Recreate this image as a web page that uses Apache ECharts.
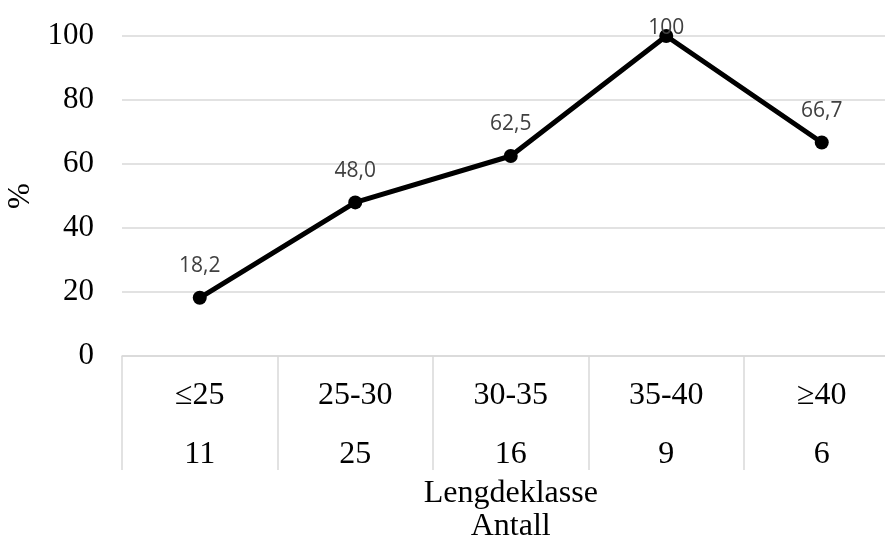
<!DOCTYPE html>
<html>
<head>
<meta charset="utf-8">
<script src="https://cdn.jsdelivr.net/npm/echarts@6/dist/echarts.min.js"></script>
<style>
  html, body { margin: 0; padding: 0; background: #fff; }
  #chart { width: 885px; height: 542px; }
</style>
</head>
<body>
<div id="chart"></div>
<script>
// Length classes, number of fish per class, and share (%) per class
const lengthClasses = ['≤25', '25-30', '30-35', '35-40', '≥40'];
const counts = [11, 25, 16, 9, 6];
const percentValues = [18.2, 48.0, 62.5, 100, 66.7];
const percentLabels = ['18,2', '48,0', '62,5', '100', '66,7'];

const serif = '"Liberation Serif", "Times New Roman", serif';
const sans = '"Open Sans", "Liberation Sans", sans-serif';

const chart = echarts.init(document.getElementById('chart'));

const seriesData = percentValues.map((v, i) => {
  const item = { value: v };
  // the top point sits at the edge of the plot, so its label is nudged down
  if (v >= 100) item.label = { offset: [0, 24] };
  return item;
});

chart.setOption({
  animation: false,
  grid: {
    left: 122, right: -14.5, top: 36, bottom: 186,
    containLabel: false, outerBoundsMode: 'none'
  },
  xAxis: {
    type: 'category',
    data: lengthClasses.map((c, i) => c + '\n' + counts[i]),
    boundaryGap: true,
    axisLine: { show: true, lineStyle: { color: '#d9d9d9', width: 1.5 } },
    axisTick: {
      show: true, interval: 0, alignWithLabel: false, inside: false,
      length: 114, lineStyle: { color: '#d9d9d9', width: 1.5 }
    },
    axisLabel: {
      interval: 0,
      margin: 10,
      formatter: (val) => {
        const parts = val.split('\n');
        return '{a|' + parts[0] + '}\n{b|' + parts[1] + '}';
      },
      rich: {
        a: { fontFamily: serif, fontSize: 32, color: '#000', lineHeight: 59 },
        b: { fontFamily: serif, fontSize: 32, color: '#000', lineHeight: 59 }
      }
    },
    name: 'Lengdeklasse\nAntall',
    nameLocation: 'middle',
    nameGap: 121,
    nameTextStyle: { fontFamily: serif, fontSize: 32, color: '#000', lineHeight: 33 }
  },
  yAxis: {
    type: 'value',
    min: 0, max: 100, interval: 20,
    axisLine: { show: false },
    axisTick: { show: false },
    splitLine: { show: true, lineStyle: { color: '#d9d9d9', width: 1.5 } },
    axisLabel: { fontFamily: serif, fontSize: 31, color: '#000', margin: 28 },
    name: '%',
    nameLocation: 'middle',
    nameRotate: 90,
    nameGap: 86,
    nameTextStyle: { fontFamily: serif, fontSize: 31, color: '#000' }
  },
  series: [{
    type: 'line',
    data: seriesData,
    symbol: 'circle',
    symbolSize: 14,
    itemStyle: { color: '#000' },
    lineStyle: { color: '#000', width: 5 },
    label: {
      show: true,
      position: 'top',
      distance: 14,
      fontFamily: sans,
      fontSize: 21,
      color: '#404040',
      formatter: (p) => percentLabels[p.dataIndex]
    }
  }]
});
</script>
</body>
</html>
